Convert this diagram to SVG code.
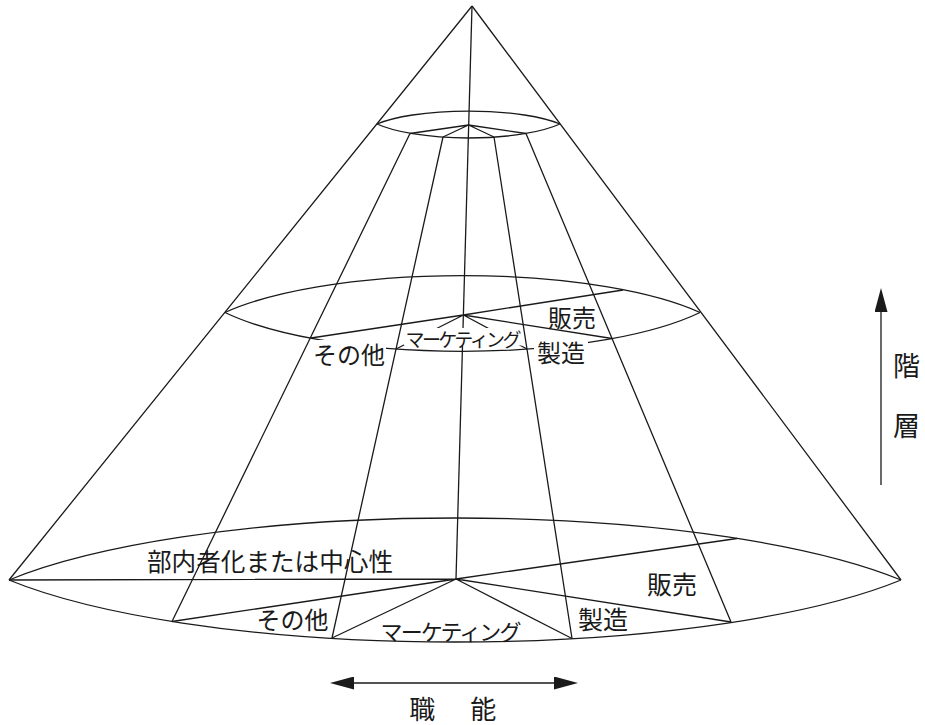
<svg xmlns="http://www.w3.org/2000/svg" width="925" height="725" viewBox="0 0 925 725">
<style>
.ln{fill:none;stroke:#1a1a1a;stroke-width:1.3;stroke-linejoin:round}
.t{font-family:"Liberation Serif","Noto Sans CJK JP",serif;fill:#1a1a1a;text-anchor:middle}
.bg{fill:#ffffff}
</style>
<defs>
<marker id="ah" viewBox="0 0 24 13" refX="14" refY="6.5" markerWidth="24" markerHeight="13" markerUnits="userSpaceOnUse" orient="auto-start-reverse">
<path d="M0,0 L24,6.5 L0,13 Z" fill="#1a1a1a"/>
</marker>
</defs>
<rect width="925" height="725" fill="#ffffff"/>
<g id="connectors" class="ln">
<path d="M472,6 L9,580 M472,6 L901,580"/>
<path d="M472,6 L456,579"/>
<path d="M410,133.5 L172,621.5 M443,137 L332,638 M494,137 L572,638.5 M526,133.5 L731,622"/>
<path d="M377,124 A106.7,26.7 0 0 1 560,124 M377,124 A106.7,28.8 0 0 0 560,124"/>
<path d="M468.5,125 L410,133.5 M468.5,125 L443,137 M468.5,125 L494,137 M468.5,125 L526,133.5"/>
<path d="M225,312.5 A277,76 0 0 1 700,312.5 M225,312.5 A277,80 0 0 0 700,312.5"/>
<path d="M463.4,315 L311,338 M463.4,315 L396,349 M463.4,315 L527,349 M463.4,315 L612,338.5 M463.4,315 L623,290"/>
<path d="M9,580 A520,127.6 0 0 1 901,580 M9,580 A520,127.6 0 0 0 901,580"/>
<path d="M9,580 L456,579 M456,579 L172,621.5 M456,579 L332,638 M456,579 L572,638.5 M456,579 L731,622 M456,579 L737,538.5"/>
<path d="M340,683 L568,683" marker-start="url(#ah)" marker-end="url(#ah)"/>
<path d="M881,485 L881,298" marker-end="url(#ah)"/>
</g>
<g id="middle-labels">
<rect class="bg" x="404" y="328" width="119" height="17.5"/>
<text class="t" x="463.5" y="347" font-size="19" textLength="116" lengthAdjust="spacing">マーケティング</text>
<rect class="bg" x="314" y="340" width="72" height="27"/>
<text class="t" x="349" y="364" font-size="24">その他</text>
<rect class="bg" x="534" y="339" width="54" height="26"/>
<text class="t" x="561" y="362" font-size="24">製造</text>
<text class="t" x="572" y="327" font-size="24">販売</text>
</g>
<g id="bottom-labels">
<text class="t" x="270" y="571" font-size="24.6" textLength="246" lengthAdjust="spacing">部内者化または中心性</text>
<text class="t" x="292.5" y="629" font-size="24">その他</text>
<text class="t" x="451" y="640" font-size="22" textLength="141" lengthAdjust="spacing">マーケティング</text>
<text class="t" x="603" y="629" font-size="25">製造</text>
<text class="t" x="672" y="594" font-size="25">販売</text>
</g>
<g id="axis-labels">
<text class="t" x="455" y="719" font-size="26" letter-spacing="4.5">職　能</text>
<text class="t" font-size="27"><tspan x="906.5" y="376">階</tspan><tspan x="906.5" y="436">層</tspan></text>
</g>
</svg>
